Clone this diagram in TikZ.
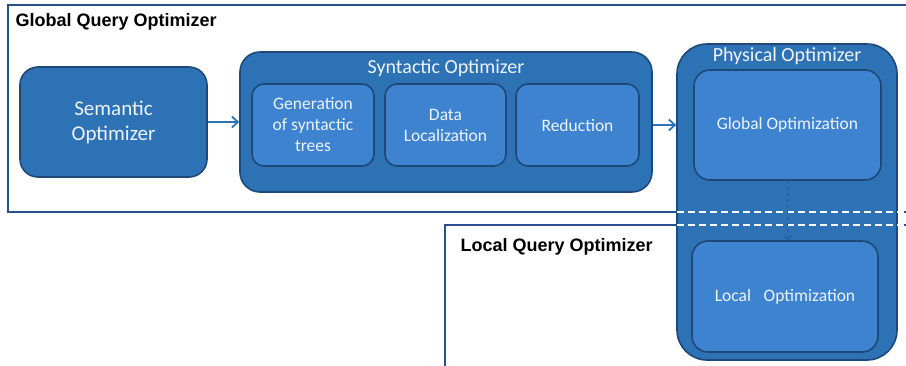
\documentclass[tikz,border=0pt]{standalone}
\usepackage{fontspec}
\setmainfont{Carlito}
\newfontfamily\arialfont{Liberation Sans}
\usepackage{tikz}
\usetikzlibrary{arrows.meta}

\definecolor{framecol}{RGB}{40,80,140}
\definecolor{boxfill}{RGB}{46,114,182}
\definecolor{innerfill}{RGB}{61,131,208}
\definecolor{boxline}{RGB}{30,72,120}
\definecolor{txtcol}{RGB}{238,243,250}

\tikzset{
  frame/.style={draw=framecol, line width=2pt},
  bigbox/.style={draw=boxline, fill=boxfill, line width=1.6pt, rounded corners=18pt, text=txtcol, align=center, font=\fontsize{21}{25}\selectfont},
  innerbox/.style={draw=boxline, fill=innerfill, line width=1.6pt, rounded corners=12pt, text=txtcol, align=center, font=\fontsize{17.5}{21}\selectfont},
  boxtitle/.style={text=txtcol, font=\fontsize{20}{24}\selectfont},
  frametitle/.style={anchor=west, font=\arialfont\bfseries\fontsize{18}{21}\selectfont},
  flow/.style={draw=boxfill, line width=1.8pt, -{Straight Barb[length=6pt,width=11pt]}}
}

\begin{document}
\begin{tikzpicture}[x=1pt,y=-1pt]
    \clip (0,0) rectangle (906,365);
    \fill[white] (0,0) rectangle (906,365);
    % the two query optimizer frames
    \draw[frame] (8,5) rectangle (920,212);
    \draw[frame] (445,225) rectangle (920,380);
    \node[frametitle] (gqo) at (12,22) {Global Query Optimizer};
    \node[frametitle] (lqo) at (457,247) {Local Query Optimizer};

    \node[bigbox, minimum width=187pt, minimum height=110pt] (sem) at (113.5,122) {Semantic\\Optimizer};

    \node[bigbox, rounded corners=20pt, minimum width=412pt, minimum height=140pt] (syn) at (446,122) {};
    \node[boxtitle] (syntitle) at (446,68) {Syntactic Optimizer};
    \node[innerbox, minimum width=122pt, minimum height=82pt] (gen) at (313,125) {Generation\\of syntactic\\trees};
    \node[innerbox, minimum width=121pt, minimum height=82pt] (loc) at (445.5,125) {Data\\Localization};
    \node[innerbox, minimum width=123pt, minimum height=82pt] (red) at (577.5,125) {Reduction};

    \node[bigbox, rounded corners=30pt, minimum width=220pt, minimum height=316pt] (phy) at (787,202) {};
    \node[boxtitle] (phytitle) at (787,56) {Physical Optimizer};
    \node[innerbox, rounded corners=16pt, minimum width=187pt, minimum height=110pt] (gopt) at (787.5,125) {Global Optimization};
    \node[innerbox, rounded corners=16pt, minimum width=186pt, minimum height=111pt] (lopt) at (785,296.5) {Local\enspace\ Optimization};

    % frames cut through the physical optimizer
    \draw[white, line width=2pt, dash pattern=on 7pt off 4pt] (677,212) -- (906,212);
    \draw[white, line width=2pt, dash pattern=on 7pt off 4pt] (677,225) -- (906,225);

    \draw[flow] (sem) -- (syn);
    \draw[flow] (syn.east |- red) -- (phy.west |- red);
    \draw[draw=boxline!60!boxfill, line width=1pt, dashed, -{Straight Barb[length=4pt,width=8pt]}] (gopt.south) -- (gopt.south |- lopt.north);
\end{tikzpicture}
\end{document}
